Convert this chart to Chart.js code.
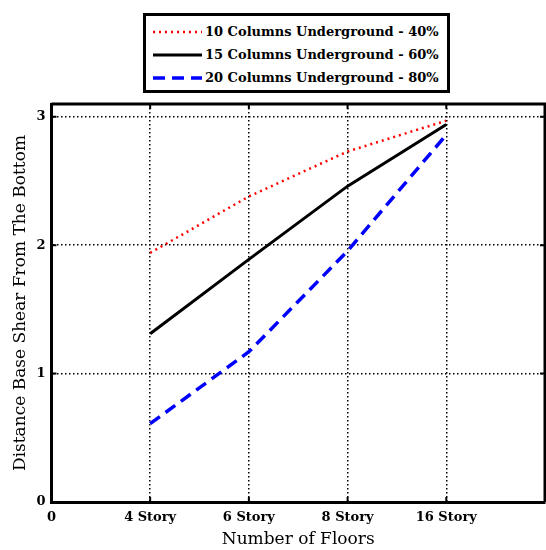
<!DOCTYPE html>
<html>
<head>
<meta charset="utf-8">
<script src="https://cdn.jsdelivr.net/npm/chart.js@4"></script>
<style>
  body { margin: 0; background: #fff; }
  #wrap { position: relative; width: 546px; height: 550px; }
  #legend {
    position: absolute; left: 143px; top: 13px; width: 301px; height: 70px;
    border: 3px solid #000; background: #fff;
    font: bold 13px "DejaVu Serif", serif; color: #000;
    padding-top: 4px;
  }
  .item { display: flex; align-items: center; height: 23px; white-space: nowrap; }
  .item svg { flex-shrink: 0; margin-left: 6px; margin-right: 3px; }
</style>
</head>
<body>
<div id="wrap">
  <canvas id="chart" width="546" height="550"></canvas>
  <div id="legend"></div>
</div>
<script>
const xLabels = ["0", "4 Story", "6 Story", "8 Story", "16 Story"];
const xPositions = [1, 2, 3, 4];
const yTicks = [0, 1, 2, 3];

const seriesNames = [
  "10 Columns Underground - 40%",
  "15 Columns Underground - 60%",
  "20 Columns Underground - 80%",
];
const cols10 = [1.94, 2.38, 2.73, 2.97];
const cols15 = [1.31, 1.89, 2.46, 2.94];
const cols20 = [0.61, 1.17, 1.955, 2.86];

const colors = ["#ff0000", "#000000", "#0000ff"];
const widths = [2.5, 3, 3.5];
const dashes = [[2, 4], [], [12, 7]];

const serif = "'DejaVu Serif', serif";

function toPoints(values) {
  return values.map((v, i) => ({ x: xPositions[i], y: v }));
}

const datasets = [cols10, cols15, cols20].map((values, i) => ({
  label: seriesNames[i],
  data: toPoints(values),
  borderColor: colors[i],
  backgroundColor: colors[i],
  borderWidth: widths[i],
  borderDash: dashes[i],
  pointRadius: 0,
  tension: 0,
}));

// legend in a bordered box, built from the series arrays
const legendEl = document.getElementById("legend");
seriesNames.forEach((name, i) => {
  const row = document.createElement("div");
  row.className = "item";
  const dash = dashes[i].length ? dashes[i].join(" ") : "none";
  row.innerHTML =
    `<svg width="50" height="10"><line x1="1" y1="5" x2="50" y2="5" stroke="${colors[i]}" ` +
    `stroke-width="${widths[i]}" stroke-dasharray="${dash}"/></svg>`;
  const span = document.createElement("span");
  span.textContent = name;
  row.appendChild(span);
  legendEl.appendChild(row);
});

const boxPlugin = {
  id: "box",
  afterDraw(chart) {
    const { ctx, chartArea: a, scales } = chart;
    ctx.save();
    ctx.strokeStyle = "#000";
    ctx.lineWidth = 3;
    ctx.beginPath();
    ctx.moveTo(a.left, a.top);
    ctx.lineTo(a.right, a.top);
    ctx.lineTo(a.right, a.bottom);
    ctx.stroke();
    // inward tick marks
    ctx.lineWidth = 2;
    ctx.beginPath();
    xPositions.forEach((v) => {
      const px = scales.x.getPixelForValue(v);
      ctx.moveTo(px, a.bottom);
      ctx.lineTo(px, a.bottom - 5);
      ctx.moveTo(px, a.top);
      ctx.lineTo(px, a.top + 5);
    });
    yTicks.slice(1).forEach((v) => {
      const py = scales.y.getPixelForValue(v);
      ctx.moveTo(a.left, py);
      ctx.lineTo(a.left + 5, py);
      ctx.moveTo(a.right, py);
      ctx.lineTo(a.right - 5, py);
    });
    ctx.stroke();
    ctx.restore();
  },
};

new Chart(document.getElementById("chart"), {
  type: "line",
  data: { datasets },
  options: {
    responsive: false,
    animation: false,
    layout: { padding: { top: 104, right: 1, left: 10, bottom: 0 } },
    plugins: {
      legend: { display: false },
      tooltip: { enabled: false },
    },
    scales: {
      x: {
        type: "linear",
        min: 0,
        max: 5,
        afterBuildTicks: (axis) => {
          axis.ticks = xLabels.map((_, i) => ({ value: i }));
        },
        ticks: {
          color: "#000",
          font: { family: serif, size: 13, weight: "bold" },
          padding: 8,
          maxRotation: 0,
          callback: (v) => xLabels[v],
        },
        grid: {
          color: "#000",
          lineWidth: 1.5,
          drawTicks: false,
        },
        border: { color: "#000", width: 3, dash: [1.5, 2.5] },
        title: {
          display: true,
          text: "Number of Floors",
          color: "#000",
          font: { family: serif, size: 17 },
          padding: { top: -4, bottom: 0 },
        },
      },
      y: {
        min: 0,
        max: 3.1,
        afterBuildTicks: (axis) => {
          axis.ticks = yTicks.map((v) => ({ value: v }));
        },
        ticks: {
          color: "#000",
          font: { family: serif, size: 13, weight: "bold" },
          padding: 6,
        },
        grid: {
          color: "#000",
          lineWidth: 1.5,
          drawTicks: false,
        },
        border: { color: "#000", width: 3, dash: [1.5, 2.5] },
        title: {
          display: true,
          text: "Distance Base Shear From The Bottom",
          color: "#000",
          font: { family: serif, size: 17 },
          padding: { top: 0, bottom: 0 },
        },
      },
    },
  },
  plugins: [boxPlugin],
});
</script>
</body>
</html>
